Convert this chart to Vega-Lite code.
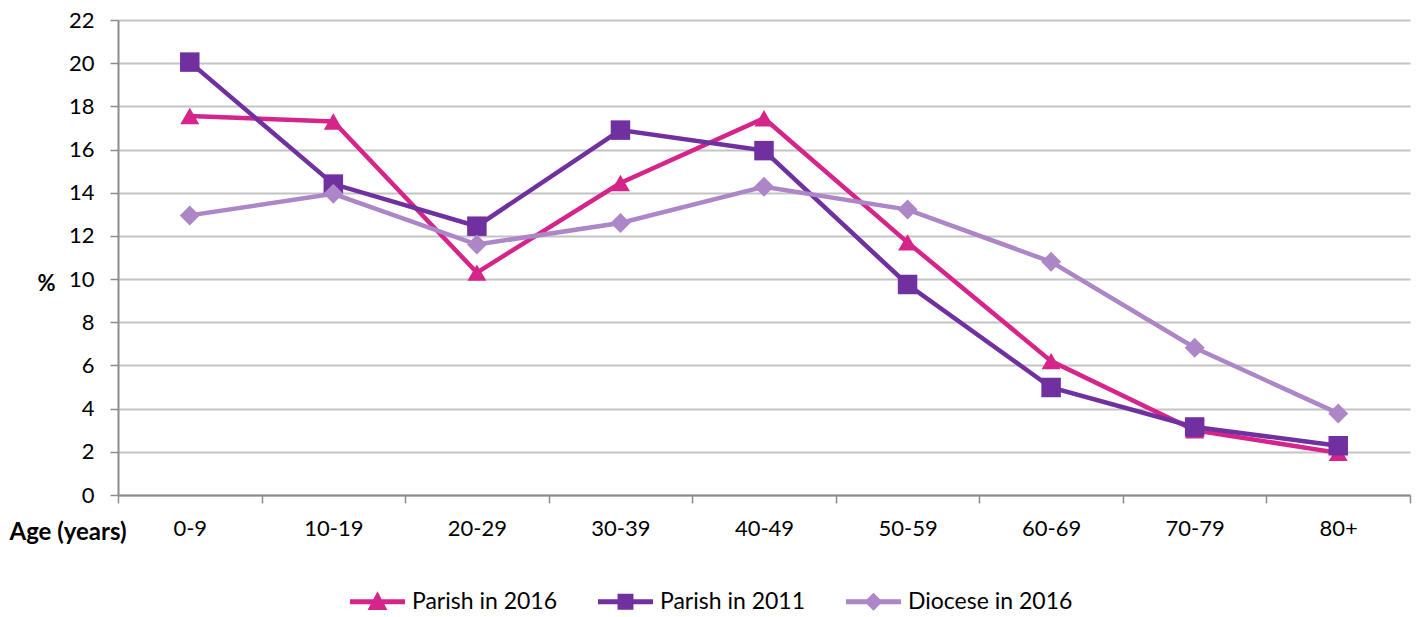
{
  "$schema": "https://vega.github.io/schema/vega-lite/v6.json",
  "autosize": {"type": "none"},
  "padding": {"left": 118, "top": 20, "right": 10, "bottom": 122},
  "width": 1292,
  "height": 475,
  "background": "white",
  "config": {
    "view": {"stroke": null},
    "font": "Lato",
    "axis": {"labelFont": "Lato", "titleFont": "Lato", "labelColor": "#000000", "titleColor": "#000000"}
  },
  "data": {
    "values": [
      {"age": "0-9", "series": "Parish in 2016", "value": 17.55},
      {"age": "10-19", "series": "Parish in 2016", "value": 17.3},
      {"age": "20-29", "series": "Parish in 2016", "value": 10.3},
      {"age": "30-39", "series": "Parish in 2016", "value": 14.45},
      {"age": "40-49", "series": "Parish in 2016", "value": 17.45},
      {"age": "50-59", "series": "Parish in 2016", "value": 11.7},
      {"age": "60-69", "series": "Parish in 2016", "value": 6.2},
      {"age": "70-79", "series": "Parish in 2016", "value": 3.0},
      {"age": "80+", "series": "Parish in 2016", "value": 1.95},
      {"age": "0-9", "series": "Parish in 2011", "value": 20.05},
      {"age": "10-19", "series": "Parish in 2011", "value": 14.4},
      {"age": "20-29", "series": "Parish in 2011", "value": 12.45},
      {"age": "30-39", "series": "Parish in 2011", "value": 16.9},
      {"age": "40-49", "series": "Parish in 2011", "value": 15.95},
      {"age": "50-59", "series": "Parish in 2011", "value": 9.75},
      {"age": "60-69", "series": "Parish in 2011", "value": 4.98},
      {"age": "70-79", "series": "Parish in 2011", "value": 3.15},
      {"age": "80+", "series": "Parish in 2011", "value": 2.28},
      {"age": "0-9", "series": "Diocese in 2016", "value": 12.95},
      {"age": "10-19", "series": "Diocese in 2016", "value": 13.95},
      {"age": "20-29", "series": "Diocese in 2016", "value": 11.6},
      {"age": "30-39", "series": "Diocese in 2016", "value": 12.6},
      {"age": "40-49", "series": "Diocese in 2016", "value": 14.28},
      {"age": "50-59", "series": "Diocese in 2016", "value": 13.22},
      {"age": "60-69", "series": "Diocese in 2016", "value": 10.8},
      {"age": "70-79", "series": "Diocese in 2016", "value": 6.82},
      {"age": "80+", "series": "Diocese in 2016", "value": 3.78}
    ]
  },
  "encoding": {
    "x": {
      "field": "age",
      "type": "nominal",
      "sort": null,
      "scale": {"type": "band", "paddingInner": 0, "paddingOuter": 0},
      "axis": {
        "title": "Age (years)",
        "titleFontWeight": "bold",
        "titleFontSize": 24,
        "titleAnchor": "start",
        "titleAlign": "left",
        "titleBaseline": "middle",
        "titleX": -109,
        "titleY": 37,
        "labelAngle": 0,
        "labelFontSize": 22,
        "labelPadding": 15,
        "tickBand": "extent",
        "tickSize": 8,
        "tickColor": "#8C8C8C",
        "tickWidth": 1.5,
        "domainColor": "#8C8C8C",
        "domainWidth": 2,
        "grid": false
      }
    },
    "y": {
      "field": "value",
      "type": "quantitative",
      "scale": {"domain": [0, 22], "nice": false},
      "axis": {
        "title": "%",
        "titleAngle": 0,
        "titleFontWeight": "bold",
        "titleFontSize": 22,
        "titleX": -72,
        "titleY": 263,
        "titleAlign": "center",
        "titleBaseline": "middle",
        "values": [0, 2, 4, 6, 8, 10, 12, 14, 16, 18, 20, 22],
        "labelFontSize": 22,
        "labelPadding": 16,
        "tickSize": 8,
        "tickColor": "#8C8C8C",
        "tickWidth": 1.5,
        "domainColor": "#8C8C8C",
        "domainWidth": 2,
        "grid": true,
        "gridColor": "#C4C4C4",
        "gridWidth": 2
      }
    }
  },
  "layer": [
    {
      "mark": {"type": "line", "strokeWidth": 4.5},
      "encoding": {
        "color": {
          "field": "series",
          "type": "nominal",
          "scale": {"domain": ["Parish in 2016", "Parish in 2011", "Diocese in 2016"], "range": ["#D6258A", "#7030A0", "#AD86C8"]},
          "legend": null
        },
        "order": {"field": "age", "sort": "ascending"}
      }
    },
    {
      "mark": {"type": "point", "filled": true, "opacity": 1},
      "encoding": {
        "color": {
          "field": "series",
          "type": "nominal",
          "scale": {"domain": ["Parish in 2016", "Parish in 2011", "Diocese in 2016"], "range": ["#D6258A", "#7030A0", "#AD86C8"]},
          "legend": null
        },
        "shape": {
          "field": "series",
          "type": "nominal",
          "scale": {"domain": ["Parish in 2016", "Parish in 2011", "Diocese in 2016"], "range": ["triangle-up", "square", "diamond"]},
          "legend": null
        },
        "size": {
          "field": "series",
          "type": "nominal",
          "scale": {"domain": ["Parish in 2016", "Parish in 2011", "Diocese in 2016"], "range": [360, 400, 320]},
          "legend": null
        }
      }
    },
    {
      "mark": {"type": "point", "filled": true, "opacity": 0},
      "encoding": {
        "color": {
          "field": "series",
          "type": "nominal",
          "scale": {"domain": ["Parish in 2016", "Parish in 2011", "Diocese in 2016"], "range": ["#D6258A", "#7030A0", "#AD86C8"]},
          "legend": {
            "title": null,
            "orient": "none",
            "direction": "horizontal",
            "legendX": 232,
            "legendY": 554,
            "labelFontSize": 23,
            "labelFont": "Lato",
            "labelColor": "#000000",
            "labelLimit": 400,
            "symbolSize": 3025,
            "symbolOpacity": 1,
            "symbolStrokeWidth": 0,
            "labelOffset": 7,
            "columnPadding": 40
          }
        },
        "shape": {
          "field": "series",
          "type": "nominal",
          "scale": {
            "domain": ["Parish in 2016", "Parish in 2011", "Diocese in 2016"],
            "range": [
              "M-1,-0.09H1V0.09H-1Z M0,-0.38L0.36,0.3L-0.36,0.3Z",
              "M-1,-0.09H1V0.09H-1Z M-0.29,-0.29H0.29V0.29H-0.29Z",
              "M-1,-0.09H1V0.09H-1Z M0,-0.33L0.33,0L0,0.33L-0.33,0Z"
            ]
          },
          "legend": {
            "title": null,
            "orient": "none",
            "direction": "horizontal",
            "legendX": 232,
            "legendY": 554,
            "labelFontSize": 23,
            "labelFont": "Lato",
            "labelColor": "#000000",
            "labelLimit": 400,
            "symbolSize": 3025,
            "symbolOpacity": 1,
            "symbolStrokeWidth": 0,
            "labelOffset": 7,
            "columnPadding": 40
          }
        }
      }
    }
  ],
  "resolve": {
    "scale": {"color": "independent", "shape": "independent", "size": "independent"},
    "legend": {"color": "independent", "shape": "independent"}
  }
}
